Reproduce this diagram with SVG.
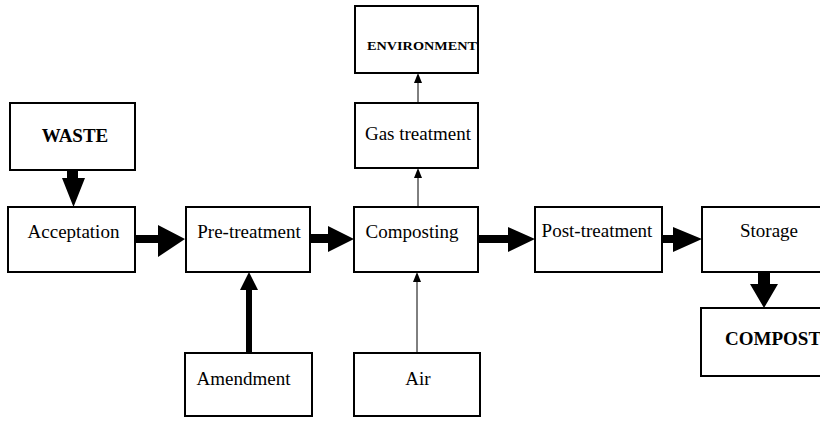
<svg xmlns="http://www.w3.org/2000/svg" width="820" height="423" viewBox="0 0 820 423">
<style>
.box{fill:#fff;stroke:#000;stroke-width:2}
.t{font-family:"Liberation Serif","Times New Roman",serif;font-size:19px;fill:#000}
.b{font-weight:bold}
.thick{fill:#000}
.thin{stroke:#000;stroke-width:1;fill:none}
</style>
<rect width="820" height="423" fill="#fff"/>
<g id="connectors">
<polygon class="thick" points="67,170 78,170 78,178 85,178 73.5,207 62,178 67,178"/>
<polygon class="thick" points="135,235 158,235 158,225 185,239 158,257 158,243 135,243"/>
<polygon class="thick" points="310,234 328,234 328,226 354,239 328,252 328,243 310,243"/>
<polygon class="thick" points="478,235 508,235 508,227 535,239 508,252 508,243 478,243"/>
<polygon class="thick" points="662,235 673,235 673,227 702,239 673,252 673,243 662,243"/>
<polygon class="thick" points="758,272 770,272 770,284 778,284 764,308 750,284 758,284"/>
<polygon class="thick" points="246,353 252,353 252,290 258,290 249,272 240,290 246,290"/>
<line class="thin" x1="417" y1="353" x2="417" y2="281"/>
<polygon class="thick" points="413,282 421,282 417,272"/>
<line class="thin" x1="418" y1="207" x2="418" y2="177"/>
<polygon class="thick" points="414,178 422,178 418,168"/>
<line class="thin" x1="418" y1="103" x2="418" y2="82"/>
<polygon class="thick" points="414,83 422,83 418,73"/>
</g>
<g id="waste"><rect class="box" x="10" y="103" width="125" height="67"/><text class="t b" x="75" y="142" text-anchor="middle">WASTE</text></g>
<g id="acceptation"><rect class="box" x="8" y="207" width="127" height="65"/><text class="t" x="73.5" y="238" text-anchor="middle">Acceptation</text></g>
<g id="pretreatment"><rect class="box" x="186" y="207" width="124" height="65"/><text class="t" x="249" y="238" text-anchor="middle">Pre-treatment</text></g>
<g id="composting"><rect class="box" x="354" y="207" width="124" height="65"/><text class="t" x="412" y="238" text-anchor="middle">Composting</text></g>
<g id="posttreatment"><rect class="box" x="535" y="207" width="127" height="65"/><text class="t" x="597" y="237" text-anchor="middle">Post-treatment</text></g>
<g id="storage"><rect class="box" x="702" y="207" width="125" height="65"/><text class="t" x="769" y="237" text-anchor="middle">Storage</text></g>
<g id="compost"><rect class="box" x="701" y="308" width="126" height="68"/><text class="t b" x="725" y="345">COMPOST</text></g>
<g id="gastreatment"><rect class="box" x="355" y="103" width="123" height="65"/><text class="t" x="418" y="140" text-anchor="middle">Gas treatment</text></g>
<g id="environment"><rect class="box" x="355" y="6" width="123" height="67"/><text class="t b" x="367" y="50" font-size="12" textLength="110" lengthAdjust="spacingAndGlyphs" style="font-size:12px">ENVIRONMENT</text></g>
<g id="amendment"><rect class="box" x="185" y="353" width="127" height="63"/><text class="t" x="243.5" y="385" text-anchor="middle">Amendment</text></g>
<g id="air"><rect class="box" x="354" y="353" width="126" height="63"/><text class="t" x="418" y="385" text-anchor="middle">Air</text></g>
</svg>
